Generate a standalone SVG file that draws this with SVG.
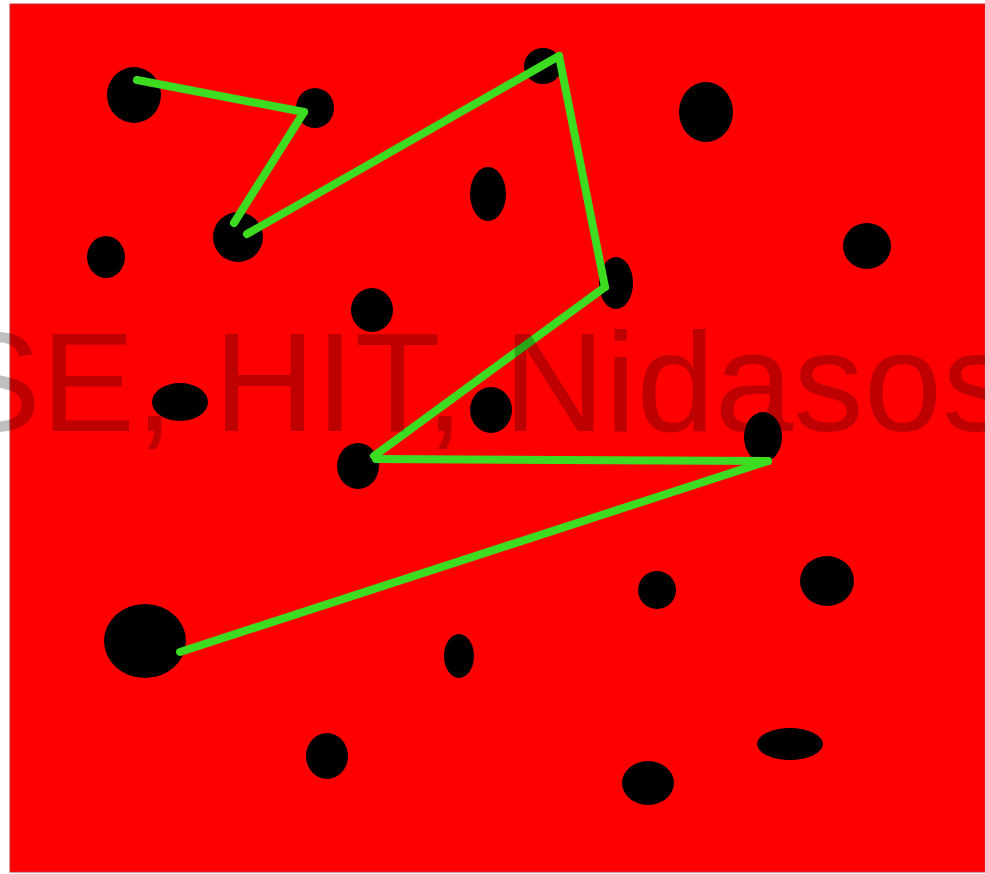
<svg xmlns="http://www.w3.org/2000/svg" width="985" height="874" viewBox="0 0 985 874">
<style>
.blob{fill:#000000}
.edge{stroke:#3ddc20;stroke-width:8;stroke-linecap:round;fill:none}
.wm{font-family:"Liberation Sans",Arial,sans-serif;font-size:141px;fill:#000000;fill-opacity:0.25}
</style>
<rect x="0" y="0" width="985" height="874" fill="#ffffff"/>
<rect x="10" y="4" width="975" height="868" fill="#ff0000" stroke="#c83030" stroke-width="1"/>
<g id="blobs">
<g id="b1"><ellipse class="blob" cx="134" cy="95" rx="27" ry="28"/></g>
<g id="b2"><ellipse class="blob" cx="315" cy="108" rx="19" ry="20"/></g>
<g id="b3"><ellipse class="blob" cx="543" cy="66" rx="19" ry="18"/></g>
<g id="b4"><ellipse class="blob" cx="706" cy="112" rx="27" ry="30"/></g>
<g id="b5"><ellipse class="blob" cx="488" cy="194" rx="18" ry="27"/></g>
<g id="b6"><ellipse class="blob" cx="238" cy="237" rx="25" ry="25"/></g>
<g id="b7"><ellipse class="blob" cx="106" cy="257" rx="19" ry="21"/></g>
<g id="b8"><ellipse class="blob" cx="867" cy="246" rx="24" ry="23"/></g>
<g id="b9"><ellipse class="blob" cx="616" cy="283" rx="17" ry="26"/></g>
<g id="b10"><ellipse class="blob" cx="372" cy="310" rx="21" ry="22"/></g>
<g id="b11"><ellipse class="blob" cx="180" cy="402" rx="28" ry="19"/></g>
<g id="b12"><ellipse class="blob" cx="491" cy="410" rx="21" ry="23"/></g>
<g id="b13"><ellipse class="blob" cx="763" cy="437" rx="19" ry="25"/></g>
<g id="b14"><ellipse class="blob" cx="358" cy="466" rx="21" ry="23"/></g>
<g id="b15"><ellipse class="blob" cx="657" cy="590" rx="19" ry="19"/></g>
<g id="b16"><ellipse class="blob" cx="827" cy="581" rx="27" ry="25"/></g>
<g id="b17"><ellipse class="blob" cx="145" cy="641" rx="41" ry="37"/></g>
<g id="b18"><ellipse class="blob" cx="459" cy="656" rx="15" ry="22"/></g>
<g id="b19"><ellipse class="blob" cx="327" cy="756" rx="21" ry="23"/></g>
<g id="b20"><ellipse class="blob" cx="790" cy="744" rx="33" ry="16"/></g>
<g id="b21"><ellipse class="blob" cx="648" cy="783" rx="26" ry="22"/></g>
</g>
<g id="connectors">
<line class="edge" x1="137" y1="80" x2="304" y2="112"/>
<line class="edge" x1="304" y1="112" x2="234" y2="223"/>
<line class="edge" x1="247" y1="234" x2="559" y2="56"/>
<line class="edge" x1="559" y1="56" x2="605" y2="287"/>
<line class="edge" x1="605" y1="287" x2="374" y2="456"/>
<line class="edge" x1="376" y1="459" x2="768" y2="461"/>
<line class="edge" x1="768" y1="461" x2="180" y2="652"/>
</g>
<text class="wm" x="-53" y="431">SE, HIT, Nidasos</text>
</svg>
